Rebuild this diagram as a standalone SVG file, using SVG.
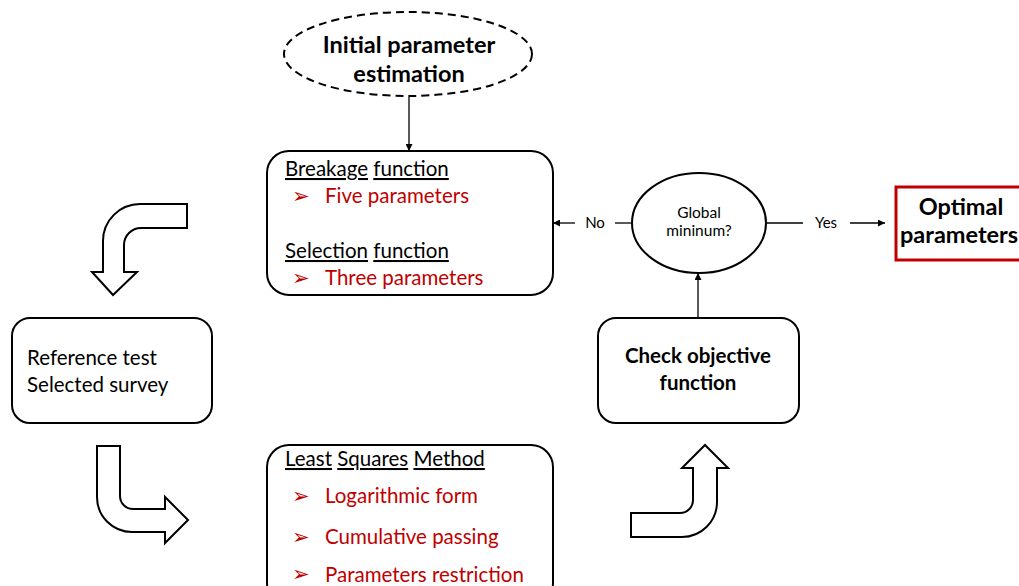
<svg xmlns="http://www.w3.org/2000/svg" width="1019" height="586" viewBox="0 0 1019 586">
  <style>
    .box { fill: #ffffff; stroke: #000000; stroke-width: 2; }
    .bend { fill: #ffffff; stroke: #000000; stroke-width: 2; stroke-linejoin: miter; }
    .line { fill: none; stroke: #000000; stroke-width: 1.3; }
    .t { font-family: Lato, "Open Sans", "Liberation Sans", sans-serif; fill: #000000; }
    .body { font-size: 20.5px; }
    .b { font-weight: bold; }
    .red { fill: #C00000; }
    .bul { font-family: "DejaVu Sans", sans-serif; fill: #C00000; font-size: 21px; }
    .u { text-decoration: underline; }
  </style>
  <defs>
    <marker id="arrow" viewBox="0 0 10 10" refX="10" refY="5" markerWidth="7" markerHeight="7" orient="auto" markerUnits="userSpaceOnUse">
      <path d="M0,0 L10,5 L0,10 z" fill="#000000"/>
    </marker>
  </defs>
  <rect width="1019" height="586" fill="#ffffff"/>

  <!-- connectors -->
  <g id="connectors">
    <line class="line" x1="409" y1="97" x2="409" y2="151" marker-end="url(#arrow)"/>
    <line class="line" x1="632" y1="223" x2="615" y2="223"/>
    <line class="line" x1="575" y1="223" x2="553" y2="223" marker-end="url(#arrow)"/>
    <text class="t" x="595" y="228" font-size="15" text-anchor="middle">No</text>
    <line class="line" x1="767" y1="223" x2="803" y2="223"/>
    <text class="t" x="826" y="228" font-size="15" text-anchor="middle">Yes</text>
    <line class="line" x1="850" y1="223" x2="885" y2="223" marker-end="url(#arrow)"/>
    <line class="line" x1="698" y1="318" x2="698" y2="273" marker-end="url(#arrow)"/>
  </g>

  <!-- curved block arrows -->
  <g id="bend-down">
    <path class="bend" d="M187,204 L187,228 L141,228 A17,17 0 0 0 124,245 L124,272 L137,272 L113,295 L92,272 L103,272 L103,241 A37,37 0 0 1 140,204 Z"/>
  </g>
  <g id="bend-right">
    <path class="bend" d="M97,446 L120,446 L120,496 A13,13 0 0 0 133,509 L165,509 L165,497 L188,520 L165,543 L165,532 L132,532 A35,35 0 0 1 97,497 Z"/>
  </g>
  <g id="bend-up">
    <path class="bend" d="M631,513 L680,513 A13,13 0 0 0 693,500 L693,468 L682,468 L705,445 L728,468 L717,468 L717,502 A35,35 0 0 1 682,537 L631,537 Z"/>
  </g>

  <!-- start node -->
  <g id="initial">
    <ellipse cx="408" cy="54" rx="124" ry="42" fill="#ffffff" stroke="#000000" stroke-width="2" stroke-dasharray="8,5"/>
    <text class="t b" x="409" y="53" font-size="23.5" text-anchor="middle">Initial parameter</text>
    <text class="t b" x="409" y="82" font-size="23.5" text-anchor="middle">estimation</text>
  </g>

  <!-- breakage / selection functions -->
  <g id="functions">
    <rect class="box" x="267" y="151" width="286" height="144" rx="22"/>
    <text class="t body" x="285" y="176"><tspan class="u">Breakage</tspan> <tspan class="u">function</tspan></text>
    <text class="bul" x="292" y="203">➢</text>
    <text class="t body red" x="325" y="203">Five parameters</text>
    <text class="t body" x="285" y="258"><tspan class="u">Selection</tspan> <tspan class="u">function</tspan></text>
    <text class="bul" x="292" y="285">➢</text>
    <text class="t body red" x="325" y="285">Three parameters</text>
  </g>

  <!-- reference data -->
  <g id="reference">
    <rect class="box" x="12" y="318" width="200" height="105" rx="18"/>
    <text class="t body" x="27" y="365">Reference test</text>
    <text class="t body" x="27" y="392">Selected survey</text>
  </g>

  <!-- least squares -->
  <g id="least-squares">
    <rect class="box" x="267" y="445" width="286" height="160" rx="22"/>
    <text class="t body" x="285" y="466"><tspan class="u">Least</tspan> <tspan class="u">Squares</tspan> <tspan class="u">Method</tspan></text>
    <text class="bul" x="292" y="503">➢</text>
    <text class="t body red" x="325" y="503">Logarithmic form</text>
    <text class="bul" x="292" y="544">➢</text>
    <text class="t body red" x="325" y="544">Cumulative passing</text>
    <text class="bul" x="292" y="581">➢</text>
    <text class="t body red" x="325" y="582">Parameters restriction</text>
  </g>

  <!-- objective function -->
  <g id="objective">
    <rect class="box" x="598" y="318" width="201" height="105" rx="18"/>
    <text class="t b" x="698" y="363" font-size="20.5" text-anchor="middle">Check objective</text>
    <text class="t b" x="698" y="390" font-size="20.5" text-anchor="middle">function</text>
  </g>

  <!-- decision -->
  <g id="decision">
    <ellipse cx="699" cy="223" rx="67" ry="50" fill="#ffffff" stroke="#000000" stroke-width="2"/>
    <text class="t" x="699" y="218" font-size="15.5" text-anchor="middle">Global</text>
    <text class="t" x="699" y="236" font-size="15.5" text-anchor="middle">mininum?</text>
  </g>

  <!-- result -->
  <g id="optimal">
    <rect x="896" y="187" width="140" height="73" fill="#ffffff" stroke="#C00000" stroke-width="3"/>
    <text class="t b" x="961" y="215" font-size="23.5" text-anchor="middle">Optimal</text>
    <text class="t b" x="900" y="243" font-size="23.5">parameters</text>
  </g>
</svg>
